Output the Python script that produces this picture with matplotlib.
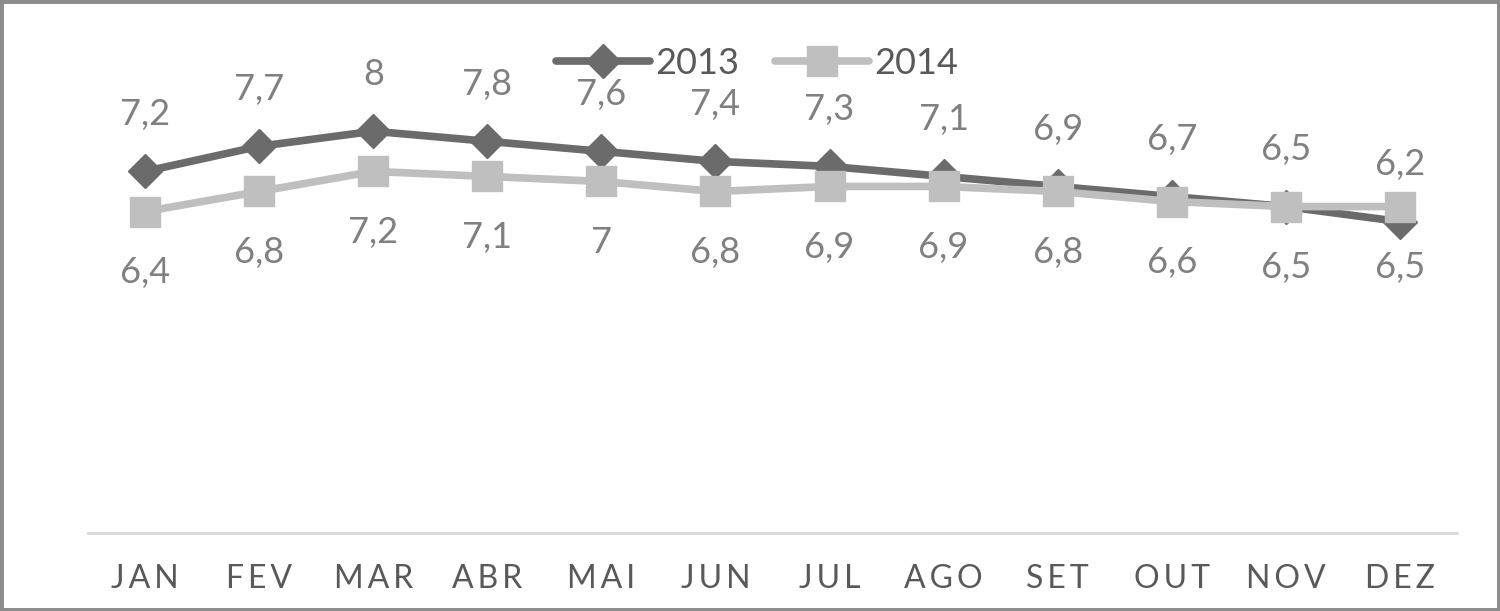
import matplotlib
matplotlib.use("Agg")
import matplotlib.pyplot as plt
from matplotlib.patches import Rectangle

plt.rcParams['font.family'] = ['Lato', 'DejaVu Sans']

months = ["JAN", "FEV", "MAR", "ABR", "MAI", "JUN", "JUL", "AGO", "SET", "OUT", "NOV", "DEZ"]
s2013 = [7.2, 7.7, 8.0, 7.8, 7.6, 7.4, 7.3, 7.1, 6.9, 6.7, 6.5, 6.2]
s2014 = [6.4, 6.8, 7.2, 7.1, 7.0, 6.8, 6.9, 6.9, 6.8, 6.6, 6.5, 6.5]

c13 = '#6b6b6b'
c14 = '#bfbfbf'
lab_c = '#808080'

fig = plt.figure(figsize=(15, 6.11), dpi=100)
ax = fig.add_axes([0.0587, 0.1277, 0.9126, 0.7397])

x = list(range(len(months)))
ax.plot(x, s2013, color=c13, lw=5.5, marker='D', markersize=17, label='2013',
        solid_capstyle='round', zorder=3)
ax.plot(x, s2014, color=c14, lw=5.5, marker='s', markersize=21, label='2014',
        solid_capstyle='round', zorder=4)

def fmt(v):
    return ('%g' % v).replace('.', ',')

for xi, v in zip(x, s2013):
    ax.annotate(fmt(v), (xi, v), xytext=(0, 41), textcoords='offset points',
                ha='center', va='center', fontsize=26, color=lab_c)
for xi, v in zip(x, s2014):
    ax.annotate(fmt(v), (xi, v), xytext=(0, -44), textcoords='offset points',
                ha='center', va='center', fontsize=26, color=lab_c)

ax.set_xlim(-0.5, len(months) - 0.5)
ax.set_ylim(0, 9)
ax.set_xticks(x)
ax.set_xticklabels(["\u2009".join(m) for m in months], fontsize=23, color='#595959')
ax.tick_params(axis='x', length=0, pad=22)
ax.set_yticks([])
for sp in ['top', 'right', 'left']:
    ax.spines[sp].set_visible(False)
ax.spines['bottom'].set_color('#d9d9d9')
ax.spines['bottom'].set_linewidth(2)

handles, labels = ax.get_legend_handles_labels()
fig.legend(handles, labels, loc='center', bbox_to_anchor=(757 / 1500, 1 - 63 / 611),
           ncol=2, frameon=False, fontsize=26, handlelength=2.6,
           columnspacing=1.0, handletextpad=0.15, labelcolor='#595959')

fig.patches.append(Rectangle((0, 0), 1, 1, transform=fig.transFigure, fill=False,
                             edgecolor='#8c8c8c', lw=5, zorder=10))

fig.savefig('out.png', dpi=100)
